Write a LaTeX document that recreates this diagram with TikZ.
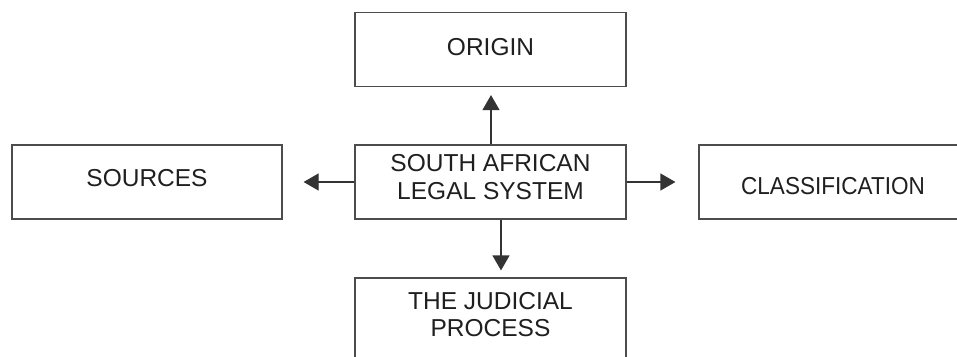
\documentclass[tikz,border=0pt]{standalone}
\usepackage{fontspec}
\setmainfont{Liberation Sans}
\usetikzlibrary{arrows.meta}
\begin{document}
\begin{tikzpicture}[x=1pt,y=-1pt,
  box/.style={draw=black!70, line width=1.2pt, minimum width=271pt, minimum height=74pt, inner sep=0pt},
  txt/.style={inner sep=0pt, align=center, font=\fontsize{24.5}{27.5}\selectfont, text=black!88},
  conn/.style={draw=black!80, line width=1.2pt, -{Triangle[length=15pt,width=17pt]}}]
\useasboundingbox (0,0) rectangle (957,356);
\clip (0,0) rectangle (957,356);
% boxes
\node[box] (origin) at (490.5,49.5) {};
\node[box, minimum width=270pt] (sources) at (147,182) {};
\node[box] (sys) at (490.5,182) {};
\node[box, minimum width=300pt] (class) at (849,182) {};
\node[box, minimum height=90pt] (jud) at (490.5,323) {};
% texts
\node[txt] (origintxt) at (490.5,47) {ORIGIN};
\node[txt] (sourcestxt) at (147,178) {SOURCES};
\node[txt] (systxt) at (490.5,177) {SOUTH AFRICAN\\LEGAL SYSTEM};
\node[txt] (classtxt) at (833,186) {\scalebox{0.92}[1]{CLASSIFICATION}};
\node[txt] (judtxt) at (490.5,314.5) {THE JUDICIAL\\PROCESS};
% connectors
\draw[conn] ([xshift=0.5pt]sys.north) -- ([xshift=0.5pt,yshift=-8pt]origin.south);
\draw[conn] (sys.west) -- ([xshift=21pt]sources.east);
\draw[conn] (sys.east) -- ([xshift=-23pt]class.west);
\draw[conn] ([xshift=10.5pt]sys.south) -- ([xshift=10.5pt,yshift=7pt]jud.north);
\end{tikzpicture}
\end{document}
